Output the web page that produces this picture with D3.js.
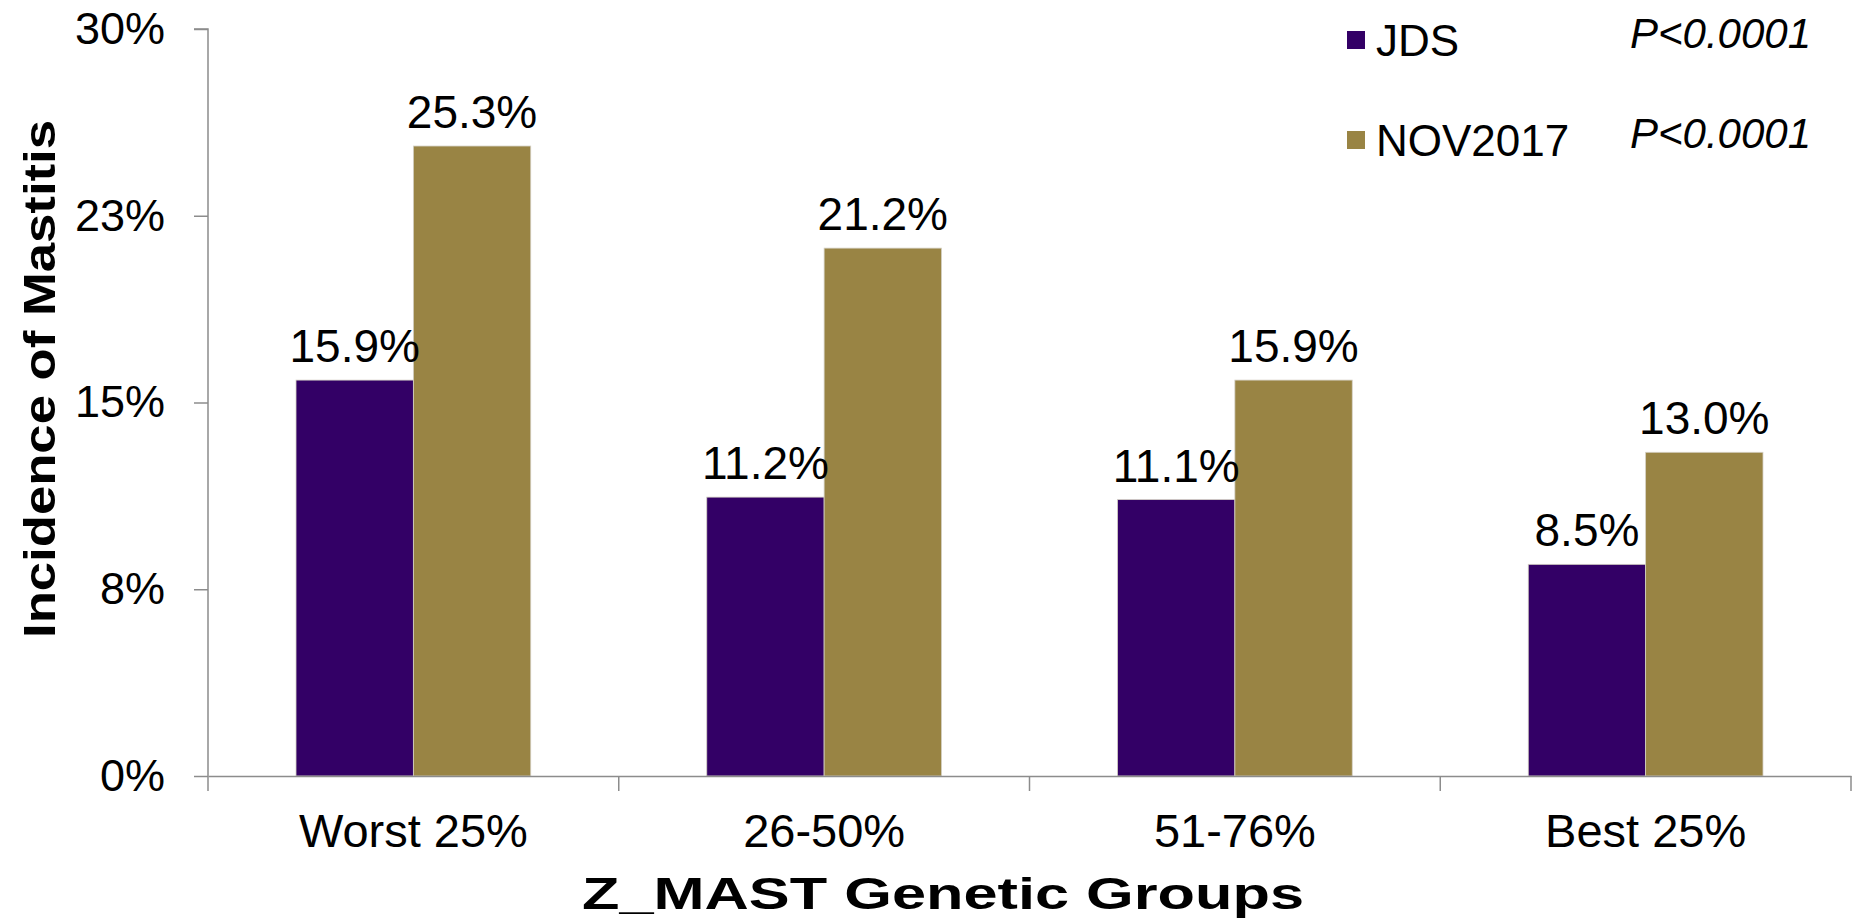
<!DOCTYPE html>
<html lang="en">

<head>
  <meta charset="UTF-8">
  <title>Incidence of Mastitis by Z_MAST Genetic Group</title>
  <script src="https://d3js.org/d3.v7.min.js"></script>
  <style>
    body { margin: 0; background: #fff; }
    text { font-family: "Liberation Sans", Arial, sans-serif; fill: #000; }
  </style>
</head>

<body>

  <script>
    // Data
    const categories = ['Worst 25%', '26-50%', '51-76%', 'Best 25%'];
    const seriesNames = ['JDS', 'NOV2017'];
    const jdsValues = [0.159, 0.112, 0.111, 0.085];
    const novValues = [0.253, 0.212, 0.159, 0.130];
    const pValues = ['P<0.0001', 'P<0.0001'];
    const yTickValues = [0, 0.075, 0.15, 0.225, 0.30];
    const yTickLabels = ['0%', '8%', '15%', '23%', '30%'];

    const colors = { 'JDS': '#330066', 'NOV2017': '#998444' };

    const width = 1873;
    const height = 918;
    const margin = { top: 29, right: 22, bottom: 142, left: 208 };
    const innerW = width - margin.left - margin.right;
    const innerH = height - margin.top - margin.bottom;

    const data = categories.map((c, i) => ({
      category: c,
      values: [
        { series: 'JDS', value: jdsValues[i] },
        { series: 'NOV2017', value: novValues[i] }
      ]
    }));

    const svg = d3.select('body')
      .append('svg')
      .attr('width', width)
      .attr('height', height);

    const g = svg.append('g')
      .attr('transform', `translate(${margin.left},${margin.top})`);

    // scales
    const x0 = d3.scaleBand()
      .domain(categories)
      .range([0, innerW])
      .padding(0);

    // gap between groups is 1.5 bar widths
    const x1 = d3.scaleBand()
      .domain(seriesNames)
      .range([0, x0.bandwidth()])
      .paddingInner(0)
      .paddingOuter(0.75);

    const y = d3.scaleLinear()
      .domain([0, 0.30])
      .range([innerH, 0]);

    // bars
    const groups = g.selectAll('.group')
      .data(data)
      .enter()
      .append('g')
      .attr('class', 'group')
      .attr('transform', d => `translate(${x0(d.category)},0)`);

    groups.selectAll('rect')
      .data(d => d.values)
      .enter()
      .append('rect')
      .attr('x', d => x1(d.series))
      .attr('y', d => y(d.value))
      .attr('width', x1.bandwidth())
      .attr('height', d => innerH - y(d.value))
      .attr('fill', d => colors[d.series])
      .attr('stroke', '#d4d0c4')
      .attr('stroke-width', 0.8);

    // value labels
    groups.selectAll('.val')
      .data(d => d.values)
      .enter()
      .append('text')
      .attr('class', 'val')
      .attr('x', d => x1(d.series) + x1.bandwidth() / 2)
      .attr('y', d => y(d.value) - 18)
      .attr('text-anchor', 'middle')
      .style('font-size', '46px')
      .text(d => (d.value * 100).toFixed(1) + '%');

    // y axis
    const yAxis = d3.axisLeft(y)
      .tickValues(yTickValues)
      .tickFormat((d, i) => yTickLabels[i])
      .tickSize(14)
      .tickPadding(29);

    const yG = g.append('g').call(yAxis);
    yG.selectAll('line, path').attr('stroke', '#8c8c8c').attr('stroke-width', 1.5);
    yG.select('.domain').attr('d', `M-14,0H0V${innerH}`);
    yG.selectAll('text')
      .attr('font-family', null)
      .style('font-size', '45px');

    // x axis, ticks on category boundaries
    const xAxis = d3.axisBottom(x0)
      .tickSize(0)
      .tickPadding(38);

    const xG = g.append('g')
      .attr('transform', `translate(0,${innerH})`)
      .call(xAxis);
    xG.select('.domain').attr('stroke', '#8c8c8c').attr('stroke-width', 1.5);
    xG.selectAll('text')
      .attr('font-family', null)
      .style('font-size', '47px');

    xG.selectAll('.bound')
      .data(categories.concat(['end']))
      .enter()
      .append('line')
      .attr('class', 'bound')
      .attr('x1', (d, i) => i * x0.step())
      .attr('x2', (d, i) => i * x0.step())
      .attr('y1', 0)
      .attr('y2', 15)
      .attr('stroke', '#8c8c8c')
      .attr('stroke-width', 1.5);

    // axis titles (wider lettering than plain bold, so stretch to measured length)
    svg.append('text')
      .attr('x', 943)
      .attr('y', 909)
      .attr('text-anchor', 'middle')
      .attr('textLength', 722)
      .attr('lengthAdjust', 'spacingAndGlyphs')
      .style('font-size', '44px')
      .style('font-weight', 'bold')
      .text('Z_MAST Genetic Groups');

    svg.append('text')
      .attr('transform', 'rotate(-90)')
      .attr('x', -379)
      .attr('y', 55)
      .attr('text-anchor', 'middle')
      .attr('textLength', 518)
      .attr('lengthAdjust', 'spacingAndGlyphs')
      .style('font-size', '44px')
      .style('font-weight', 'bold')
      .text('Incidence of Mastitis');

    // legend
    const legend = svg.append('g')
      .attr('transform', 'translate(1347,40)');

    const items = legend.selectAll('.item')
      .data(seriesNames)
      .enter()
      .append('g')
      .attr('class', 'item')
      .attr('transform', (d, i) => `translate(0,${i * 100})`);

    items.append('rect')
      .attr('x', 0)
      .attr('y', -9)
      .attr('width', 18)
      .attr('height', 18)
      .attr('fill', d => colors[d]);

    items.append('text')
      .attr('x', 29)
      .attr('y', 16)
      .style('font-size', '44px')
      .text(d => d);

    items.append('text')
      .attr('x', 283)
      .attr('y', 8)
      .style('font-size', '42px')
      .style('font-style', 'italic')
      .text((d, i) => pValues[i]);
  </script>

</body>

</html>
